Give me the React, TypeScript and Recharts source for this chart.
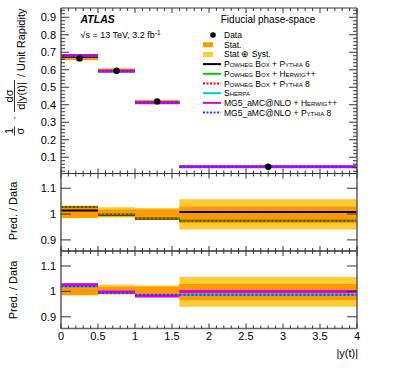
import React from 'react';
import { ComposedChart, Line, Area, Scatter, XAxis, YAxis, Legend } from 'recharts';

// ---------- data ----------
const binEdges = [0, 0.5, 1.0, 1.6, 4.0];
const binCenters = [0.25, 0.75, 1.3, 2.8];
const dataValues = [0.665, 0.594, 0.419, 0.0455];

const statLowAbs = [0.656, 0.588, 0.411, 0.0439];
const statHighAbs = [0.686, 0.605, 0.427, 0.0468];
const systLowAbs = [0.654, 0.586, 0.409, 0.0428];
const systHighAbs = [0.687, 0.61, 0.429, 0.0481];

const powhegPy6Abs = [0.674, 0.592, 0.411, 0.0459];
const powhegHwAbs = [0.683, 0.593, 0.411, 0.0443];
const powhegPy8Abs = [0.683, 0.593, 0.411, 0.0443];
const sherpaAbs = [0.678, 0.59, 0.413, 0.0449];
const mg5HwAbs = [0.682, 0.593, 0.411, 0.0455];
const mg5Py8Abs = [0.678, 0.591, 0.414, 0.0449];

const statLowRatio = [0.986, 0.99, 0.98, 0.965];
const statHighRatio = [1.031, 1.018, 1.018, 1.029];
const systLowRatio = [0.984, 0.987, 0.977, 0.94];
const systHighRatio = [1.033, 1.026, 1.023, 1.057];

const powhegPy6Ratio = [1.014, 0.996, 0.982, 1.008];
const powhegHwRatio = [1.027, 0.998, 0.982, 0.974];
const powhegPy8Ratio = [1.027, 0.998, 0.982, 0.974];
const sherpaRatio = [1.02, 0.994, 0.985, 0.987];
const mg5HwRatio = [1.026, 0.998, 0.982, 1.0];
const mg5Py8Ratio = [1.02, 0.995, 0.987, 0.987];

// ---------- ticks ----------
const xMajorTicks = [0, 0.5, 1, 1.5, 2, 2.5, 3, 3.5, 4];
const xMinorStep = 0.1;
const topYMajorTicks = [0.1, 0.2, 0.3, 0.4, 0.5, 0.6, 0.7, 0.8, 0.9];
const topYMinorStep = 0.02;
const ratioYTicks = [0.9, 1, 1.1];

const topDomain: [number, number] = [0.007, 0.953];
const midDomain: [number, number] = [0.857, 1.157];
const botDomain: [number, number] = [0.854, 1.159];

// ---------- legend ----------
const legendTitle = 'Fiducial phase-space';
const legendItems = [
  { kind: 'dot', color: '#000', main: 'Data', sc: '' },
  { kind: 'box', color: '#FF9900', main: 'Stat.', sc: '' },
  { kind: 'box', color: '#FFCC33', main: 'Stat \u2295 Syst.', sc: '' },
  { kind: 'line', color: '#000', main: '', sc: 'Powheg Box + Pythia 6' },
  { kind: 'line', color: '#00CC00', main: '', sc: 'Powheg Box + Herwig++' },
  { kind: 'dash', color: '#FF0000', main: '', sc: 'Powheg Box + Pythia 8' },
  { kind: 'line', color: '#00CCCC', main: '', sc: 'Sherpa' },
  { kind: 'line', color: '#DD00DD', main: 'MG5_aMC@NLO + ', sc: 'Herwig++' },
  { kind: 'dash', color: '#3333FF', main: 'MG5_aMC@NLO + ', sc: 'Pythia 8' },
];

const C = {
  stat: '#FF9900',
  syst: '#FFCC33',
  py6: '#000000',
  hw: '#00CC00',
  py8: '#FF0000',
  sherpa: '#00CCCC',
  mg5hw: '#DD00DD',
  mg5py8: '#3333FF',
};

const FONT = '"Liberation Sans", Arial, Helvetica, sans-serif';

function rangeTicks(lo: number, hi: number, step: number) {
  const out: number[] = [];
  const n = Math.round((hi - lo) / step);
  for (let i = 0; i <= n; i++) out.push(Number((lo + i * step).toFixed(4)));
  return out;
}
const xAllTicks = rangeTicks(0, 4, xMinorStep);
const topYAllTicks = rangeTicks(0.02, 0.94, topYMinorStep);

function segments(vals: number[]) {
  const rows: { x: number; y: number | null }[] = [];
  vals.forEach((v, i) => {
    rows.push({ x: binEdges[i], y: v }, { x: binEdges[i + 1], y: v });
    if (i < vals.length - 1) rows.push({ x: binEdges[i + 1], y: null });
  });
  return rows;
}
function bands(lo: number[], hi: number[]) {
  const rows: { x: number; r: [number, number] | null }[] = [];
  lo.forEach((l, i) => {
    rows.push({ x: binEdges[i], r: [l, hi[i]] }, { x: binEdges[i + 1], r: [l, hi[i]] });
    if (i < lo.length - 1) rows.push({ x: binEdges[i + 1], r: null });
  });
  return rows;
}
const points = binCenters.map((x, i) => ({ x, y: dataValues[i] }));

const fmt = (v: number) => String(Number(v.toFixed(2)));

const AxisTick = (props: any) => {
  const { x, y, payload, side, majors, majLen, minLen, labels, tickColor } = props;
  const v = payload.value;
  const isMajor = majors.some((m: number) => Math.abs(m - v) < 1e-6);
  const len = isMajor ? majLen : minLen;
  let x2 = x;
  let y2 = y;
  if (side === 'bottom') y2 = y - len;
  else if (side === 'top') y2 = y + len;
  else if (side === 'left') x2 = x + len;
  else x2 = x - len;
  let label = null;
  if (labels && isMajor) {
    if (side === 'bottom')
      label = (
        <text x={x} y={y + 11.5} textAnchor="middle" fontSize={11} fill="#000" fontFamily={FONT}>
          {fmt(v)}
        </text>
      );
    if (side === 'left')
      label = (
        <text x={x - 5} y={y + 4} textAnchor="end" fontSize={11} fill="#000" fontFamily={FONT}>
          {fmt(v)}
        </text>
      );
  }
  return (
    <g>
      <line x1={x} y1={y} x2={x2} y2={y2} stroke={tickColor || '#333'} strokeWidth={1} />
      {label}
    </g>
  );
};

const frameSide = { stroke: '#666', strokeWidth: 1.6 };
const frameThin = { stroke: '#333', strokeWidth: 1 };

function axes(
  yDomain: [number, number],
  yTicks: number[],
  yMajors: number[],
  yMaj: number,
  yMin: number,
  xLabels: boolean,
  topLine: any,
  bottomLine: any
) {
  return [
    <XAxis
      key="xb"
      xAxisId="b"
      type="number"
      dataKey="x"
      domain={[0, 4]}
      allowDataOverflow
      ticks={xAllTicks}
      interval={0}
      tickSize={0}
      tickMargin={0}
      height={1}
      orientation="bottom"
      axisLine={bottomLine}
      tickLine={false}
      tick={<AxisTick side="bottom" majors={xMajorTicks} majLen={5} minLen={3} labels={xLabels} />}
    />,
    <XAxis
      key="xt"
      xAxisId="t"
      type="number"
      dataKey="x"
      domain={[0, 4]}
      allowDataOverflow
      ticks={xAllTicks}
      interval={0}
      tickSize={0}
      tickMargin={0}
      height={1}
      orientation="top"
      axisLine={topLine}
      tickLine={false}
      tick={<AxisTick side="top" majors={xMajorTicks} majLen={5} minLen={3} labels={false} />}
    />,
    <YAxis
      key="yl"
      yAxisId="l"
      type="number"
      domain={yDomain}
      allowDataOverflow
      ticks={yTicks}
      interval={0}
      tickSize={0}
      tickMargin={0}
      width={1}
      orientation="left"
      axisLine={frameSide}
      tickLine={false}
      tick={<AxisTick side="left" majors={yMajors} majLen={yMaj} minLen={yMin} labels={true} />}
    />,
    <YAxis
      key="yr"
      yAxisId="r"
      type="number"
      domain={yDomain}
      allowDataOverflow
      ticks={yTicks}
      interval={0}
      tickSize={0}
      tickMargin={0}
      width={1}
      orientation="right"
      axisLine={frameSide}
      tickLine={false}
      tick={<AxisTick side="right" majors={yMajors} majLen={yMaj} minLen={yMin} labels={false} />}
    />,
  ];
}

function bandSeries(lo: number[], hi: number[], slo: number[], shi: number[], k: string) {
  return [
    <Area
      key={k + 'syst'}
      xAxisId="b"
      yAxisId="l"
      data={bands(slo, shi)}
      dataKey="r"
      type="linear"
      stroke="none"
      fill={C.syst}
      fillOpacity={1}
      isAnimationActive={false}
      dot={false}
      activeDot={false}
    />,
    <Area
      key={k + 'stat'}
      xAxisId="b"
      yAxisId="l"
      data={bands(lo, hi)}
      dataKey="r"
      type="linear"
      stroke="none"
      fill={C.stat}
      fillOpacity={1}
      isAnimationActive={false}
      dot={false}
      activeDot={false}
    />,
  ];
}

function lineSeries(vals: number[], color: string, width: number, dashed: boolean, k: string) {
  return (
    <Line
      key={k}
      xAxisId="b"
      yAxisId="l"
      data={segments(vals)}
      dataKey="y"
      type="linear"
      stroke={color}
      strokeWidth={width}
      strokeDasharray={dashed ? '2 2' : undefined}
      dot={false}
      activeDot={false}
      isAnimationActive={false}
    />
  );
}

const LegendBox = () => (
  <svg width={195} height={95} style={{ overflow: 'visible' }}>
    {legendItems.map((it, i) => {
      const cy = 7 + 9.7 * i;
      let marker: any = null;
      if (it.kind === 'dot') marker = <circle cx={13} cy={cy} r={2.8} fill={it.color} />;
      else if (it.kind === 'box') marker = <rect x={3} y={cy - 2.5} width={10} height={5} fill={it.color} />;
      else
        marker = (
          <line
            x1={3}
            x2={21}
            y1={cy}
            y2={cy}
            stroke={it.color}
            strokeWidth={2}
            strokeDasharray={it.kind === 'dash' ? '2 1.5' : undefined}
          />
        );
      return (
        <g key={i}>
          {marker}
          <text x={24} y={cy + 3} fontSize={8.5} fontFamily={FONT} fill="#000">
            {it.main}
            {it.sc ? <tspan style={{ fontVariant: 'small-caps' }}>{it.sc}</tspan> : null}
          </text>
        </g>
      );
    })}
  </svg>
);

export default function App() {
  return (
    <div style={{ position: 'absolute', left: 0, top: 0, width: 399, height: 387, background: '#fff', fontFamily: FONT }}>
      {/* top panel */}
      <div style={{ position: 'absolute', left: 0, top: 0 }}>
        <ComposedChart width={399} height={180} margin={{ top: 7, right: 41, bottom: 5.5, left: 60 }}>
          {axes(topDomain, topYAllTicks, topYMajorTicks, 8, 4, false, frameThin, frameThin)}
          {bandSeries(statLowAbs, statHighAbs, systLowAbs, systHighAbs, 'top')}
          {lineSeries(powhegPy6Abs, C.py6, 2, false, 'a1')}
          {lineSeries(powhegHwAbs, C.hw, 2, false, 'a2')}
          {lineSeries(powhegPy8Abs, C.py8, 2, true, 'a3')}
          {lineSeries(sherpaAbs, C.sherpa, 2, false, 'a4')}
          {lineSeries(mg5HwAbs, C.mg5hw, 3, false, 'a5')}
          {lineSeries(mg5Py8Abs, C.mg5py8, 2, true, 'a6')}
          <Scatter
            xAxisId="b"
            yAxisId="l"
            data={points}
            dataKey="y"
            fill="#000"
            isAnimationActive={false}
            shape={(p: any) => <circle cx={p.cx} cy={p.cy} r={3.2} fill="#000" />}
          />
          <Legend
            layout="vertical"
            align="center"
            verticalAlign="middle"
            content={() => <LegendBox />}
            wrapperStyle={{ position: 'absolute', left: 200, top: 28, width: 195, height: 95 }}
          />
        </ComposedChart>
      </div>
      {/* middle ratio panel */}
      <div style={{ position: 'absolute', left: 0, top: 170 }}>
        <ComposedChart width={399} height={85} margin={{ top: 2.5, right: 41, bottom: 3, left: 60 }}>
          {axes(midDomain, ratioYTicks, ratioYTicks, 10, 10, false, frameThin, frameThin)}
          {bandSeries(statLowRatio, statHighRatio, systLowRatio, systHighRatio, 'mid')}
          {lineSeries(powhegPy6Ratio, C.py6, 2, false, 'b1')}
          {lineSeries(powhegHwRatio, C.hw, 2, false, 'b2')}
          {lineSeries(powhegPy8Ratio, C.py8, 2, true, 'b3')}
        </ComposedChart>
      </div>
      {/* bottom ratio panel */}
      <div style={{ position: 'absolute', left: 0, top: 247 }}>
        <ComposedChart width={399} height={140} margin={{ top: 3, right: 41, bottom: 57.5, left: 60 }}>
          {axes(botDomain, ratioYTicks, ratioYTicks, 10, 10, true, frameThin, frameSide)}
          {bandSeries(statLowRatio, statHighRatio, systLowRatio, systHighRatio, 'bot')}
          {lineSeries(sherpaRatio, C.sherpa, 2, false, 'c1')}
          {lineSeries(mg5HwRatio, C.mg5hw, 3, false, 'c2')}
          {lineSeries(mg5Py8Ratio, C.mg5py8, 2, true, 'c3')}
        </ComposedChart>
      </div>
      {/* annotations */}
      <svg
        width={399}
        height={387}
        style={{ position: 'absolute', left: 0, top: 0, pointerEvents: 'none', overflow: 'visible' }}
        fontFamily={FONT}
      >
        <text x={80.5} y={22.5} fontSize={10.5} fontWeight="bold" fontStyle="italic" fill="#000">
          ATLAS
        </text>
        <text x={80.5} y={38} fontSize={9} fill="#000">
          {'\u221As = 13 TeV, 3.2 fb'}
          <tspan dy={-3.5} fontSize={6.5}>
            -1
          </tspan>
        </text>
        <text x={268} y={22.5} fontSize={10} textAnchor="middle" fill="#000">
          {legendTitle}
        </text>
        <g transform="translate(25,137) rotate(-90)" fontSize={11} fill="#000">
          <text x={6} y={-12.5} textAnchor="middle">1</text>
          <line x1={1.5} x2={10.5} y1={-10.5} y2={-10.5} stroke="#000" strokeWidth={0.8} />
          <text x={6} y={-1.5} textAnchor="middle">{'\u03C3'}</text>
          <text x={19} y={-7} textAnchor="middle">{'\u00B7'}</text>
          <text x={41} y={-12.5} textAnchor="middle">{'d\u03C3'}</text>
          <line x1={25} x2={57} y1={-10.5} y2={-10.5} stroke="#000" strokeWidth={0.8} />
          <text x={41} y={-0.5} textAnchor="middle">d|y(t)|</text>
          <text x={60} y={-0.5}>/ Unit Rapidity</text>
        </g>
        <text transform="translate(17,211) rotate(-90)" fontSize={11} textAnchor="middle" fill="#000">
          Pred. / Data
        </text>
        <text transform="translate(17,290) rotate(-90)" fontSize={11} textAnchor="middle" fill="#000">
          Pred. / Data
        </text>
        <text x={358} y={357} fontSize={11} textAnchor="end" fill="#000">
          |y(t)|
        </text>
      </svg>
    </div>
  );
}
